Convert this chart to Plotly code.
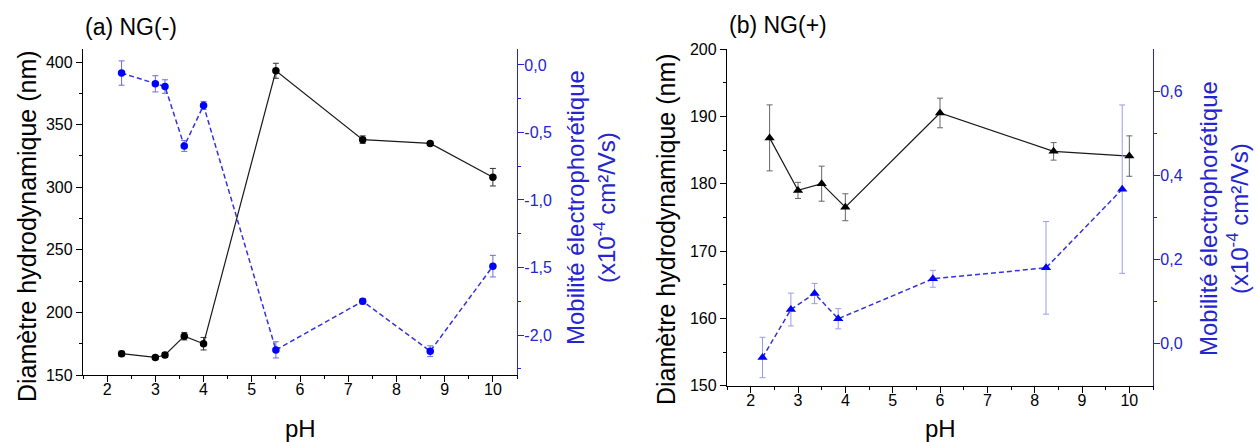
import plotly.graph_objects as go

# ---------------- data ----------------
# Panel (a) NG(-)
ph_a = [2.3, 3.0, 3.2, 3.6, 4.0, 5.5, 7.3, 8.7, 10.0]
diam_a = [167, 164, 166, 181, 175, 393, 338, 335, 308]
diam_a_err = [2.0, 1.5, 2.0, 3.0, 5.0, 6.0, 3.0, 1.5, 7.0]
mob_a = [-0.06, -0.14, -0.16, -0.60, -0.30, -2.11, -1.75, -2.12, -1.49]
mob_a_err = [0.09, 0.06, 0.05, 0.04, 0.03, 0.06, 0.02, 0.04, 0.08]

# Panel (b) NG(+)
ph_b_d = [2.4, 3.0, 3.5, 4.0, 6.0, 8.4, 10.0]
diam_b = [186.8, 179.0, 180.0, 176.5, 190.5, 184.8, 184.1]
diam_b_err = [4.9, 1.2, 2.6, 2.0, 2.2, 1.3, 3.0]
ph_b_m = [2.25, 2.85, 3.35, 3.85, 5.85, 8.24, 9.85]
mob_b = [-0.033, 0.081, 0.119, 0.059, 0.154, 0.18, 0.367]
mob_b_err = [0.048, 0.039, 0.024, 0.024, 0.02, 0.11, 0.2]

# ticks
x_ticks = [2, 3, 4, 5, 6, 7, 8, 9, 10]
x_ticktext = ["2", "3", "4", "5", "6", "7", "8", "9", "10"]
x_minor = [1.5, 2.5, 3.5, 4.5, 5.5, 6.5, 7.5, 8.5, 9.5, 10.5]
ya_ticks = [150, 200, 250, 300, 350, 400]
ya_ticktext = ["150", "200", "250", "300", "350", "400"]
ya_minor = [175, 225, 275, 325, 375]
ya2_ticks = [0.0, -0.5, -1.0, -1.5, -2.0]
ya2_ticktext = ["0,0", "-0,5", "-1,0", "-1,5", "-2,0"]
ya2_minor = [-0.25, -0.75, -1.25, -1.75, -2.25]
yb_ticks = [150, 160, 170, 180, 190, 200]
yb_ticktext = ["150", "160", "170", "180", "190", "200"]
yb_minor = [155, 165, 175, 185, 195]
yb2_ticks = [0.0, 0.2, 0.4, 0.6]
yb2_ticktext = ["0,0", "0,2", "0,4", "0,6"]
yb2_minor = [0.1, 0.3, 0.5]

W, H = 1257, 442
FONT = "Liberation Sans, Arial, sans-serif"
BLUE = "#0000ff"
BLUE_LINE = "#3434d8"
AXBLUE = "#2424d0"

def px_x(p):
    return p / W

def px_y(p):
    return 1 - p / H

fig = go.Figure()

# panel a: diameter
fig.add_trace(go.Scatter(
    x=ph_a, y=diam_a, mode="lines+markers", xaxis="x", yaxis="y",
    line=dict(color="#1a1a1a", width=1.2),
    marker=dict(symbol="circle", size=7.5, color="black"),
    error_y=dict(type="data", array=diam_a_err, color="#333333", thickness=1, width=3),
))
# panel a: mobility
fig.add_trace(go.Scatter(
    x=ph_a, y=mob_a, mode="lines+markers", xaxis="x", yaxis="y2",
    line=dict(color=BLUE_LINE, width=1.5, dash="5px,3px"),
    marker=dict(symbol="circle", size=7.5, color=BLUE),
    error_y=dict(type="data", array=mob_a_err, color="#6a6ae8", thickness=1, width=3),
))
# panel b: diameter
fig.add_trace(go.Scatter(
    x=ph_b_d, y=diam_b, mode="lines+markers", xaxis="x2", yaxis="y3",
    line=dict(color="#1a1a1a", width=1.2),
    marker=dict(symbol="triangle-up", size=9, color="black"),
    error_y=dict(type="data", array=diam_b_err, color="#666666", thickness=1, width=3),
))
# panel b: mobility
fig.add_trace(go.Scatter(
    x=ph_b_m, y=mob_b, mode="lines+markers", xaxis="x2", yaxis="y4",
    line=dict(color=BLUE_LINE, width=1.5, dash="5px,3px"),
    marker=dict(symbol="triangle-up", size=9, color=BLUE),
    error_y=dict(type="data", array=mob_b_err, color="#9a9af0", thickness=1, width=3),
))

tickfont = dict(family=FONT, size=16, color="black")
btickfont = dict(family=FONT, size=16, color=AXBLUE)

dom_xa = [px_x(83), px_x(517)]
dom_xb = [px_x(727), px_x(1153)]
dom_ya = [px_y(375), px_y(49)]
dom_yb = [px_y(385.7), px_y(49)]

def xax(domain, anchor, overlay=None, top=False):
    d = dict(
        domain=domain, anchor=anchor, range=[1.5, 10.5],
        tickmode="array", tickvals=x_ticks, ticktext=x_ticktext,
        showline=True, linecolor="black", linewidth=1.3,
        ticks="inside" if top else "outside", ticklen=5 if top else 6,
        tickwidth=1.3, tickcolor="black",
        minor=dict(tickmode="array", tickvals=x_minor, ticks="inside" if top else "outside",
                   ticklen=3, tickwidth=1.2, tickcolor="black"),
        showgrid=False, zeroline=False, tickfont=tickfont,
        ticklabelstandoff=-6,
    )
    if top:
        d.update(side="top", overlaying=overlay, showticklabels=False)
    return d

def yax(domain, anchor, rng, tv, tt, mv, side="left", overlay=None, color="black",
        tfont=tickfont, standoff=0):
    d = dict(
        domain=domain, anchor=anchor, range=rng, side=side,
        tickmode="array", tickvals=tv, ticktext=tt,
        showline=True, linecolor=color, linewidth=1.3,
        ticks="outside", ticklen=6, tickwidth=1.3, tickcolor=color,
        minor=dict(tickmode="array", tickvals=mv, ticks="outside", ticklen=3,
                   tickwidth=1.2, tickcolor=color),
        showgrid=False, zeroline=False, tickfont=tfont,
        ticklabelstandoff=standoff,
    )
    if overlay:
        d["overlaying"] = overlay
    return d

fig.update_layout(
    width=W, height=H,
    margin=dict(l=0, r=0, t=0, b=0, autoexpand=False),
    paper_bgcolor="white", plot_bgcolor="white",
    showlegend=False,
    font=dict(family=FONT, color="black"),
    xaxis=xax(dom_xa, "y"),
    xaxis2=xax(dom_xb, "y3"),
    xaxis3=xax(dom_xa, "y", overlay="x", top=True),
    xaxis4=xax(dom_xb, "y3", overlay="x2", top=True),
    yaxis=yax(dom_ya, "x", [150, 410.4], ya_ticks, ya_ticktext, ya_minor),
    yaxis2=yax(dom_ya, "x", [-2.296, 0.118], ya2_ticks, ya2_ticktext, ya2_minor,
               side="right", overlay="y", color=AXBLUE, tfont=btickfont, standoff=-3),
    yaxis3=yax(dom_yb, "x2", [150, 200], yb_ticks, yb_ticktext, yb_minor),
    yaxis4=yax(dom_yb, "x2", [-0.1, 0.7], yb2_ticks, yb2_ticktext, yb2_minor,
               side="right", overlay="y3", color=AXBLUE, tfont=btickfont, standoff=-3),
)

ann = []
def add_ann(text, x, y, size, color="black", angle=0, xanchor="center"):
    ann.append(dict(text=text, x=px_x(x), y=px_y(y), xref="paper", yref="paper",
                    showarrow=False, textangle=angle, xanchor=xanchor, yanchor="middle",
                    font=dict(family=FONT, size=size, color=color)))

add_ann("(a) NG(-)", 83, 27, 23, xanchor="left")
add_ann("(b) NG(+)", 727, 25, 23, xanchor="left")
add_ann("Diamètre hydrodynamique (nm)", 27, 226, 25, angle=-90)
add_ann("Diamètre hydrodynamique (nm)", 666, 229, 25, angle=-90)
mob_title = "Mobilité électrophorétique<br>(x10<sup>-4</sup> cm²/Vs)"
add_ann(mob_title, 591, 208, 24, color=AXBLUE, angle=-90)
add_ann(mob_title, 1224, 219, 24, color=AXBLUE, angle=-90)
add_ann("pH", 300, 428, 24)
add_ann("pH", 940, 428, 24)
fig.update_layout(annotations=ann)

fig.write_html(
    "out.html",
    config={"displayModeBar": False},
    post_script="document.body.style.margin='0';document.body.style.padding='0';"
                "document.documentElement.style.overflow='hidden';",
)
